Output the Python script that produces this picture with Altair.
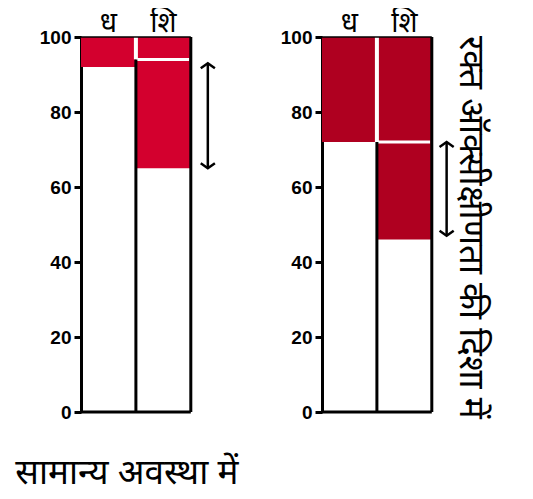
import altair as alt
import pandas as pd

# values
artery_level = [92, 72]      # lower edge of red fill, artery column (ध)
vein_level = [65, 46]        # lower edge of red fill, vein column (शि)
break_level = [94, 72]       # white break line in vein column
arrow_top = [93, 72]
arrow_bottom = [65, 47]
arrow_pos = [2.31, 2.27]
fill_colors = ["#D3002E", "#AF0020"]
col_labels = ["ध", "शि"]
col_centers = [0.5, 1.5]
y_ticks = [0, 20, 40, 60, 80, 100]
bottom_text = "सामान्य अवस्था में"
side_text = "रक्त ऑक्सीक्षीणता की दिशा में"

FONT = "Noto Sans"
XS = alt.Scale(domain=[0, 2.55], nice=False, zero=False)
YS = alt.Scale(domain=[0, 100], nice=False)


def yenc(field="y"):
    return alt.Y(f"{field}:Q", scale=YS, axis=alt.Axis(
        values=y_ticks, title=None, grid=False, domainColor="black",
        domainWidth=3, tickColor="black", tickWidth=3, tickSize=7,
        labelFontSize=19, labelFontWeight="bold", labelColor="black",
        labelFont="Liberation Sans", labelPadding=3))


def xenc(field="x"):
    return alt.X(f"{field}:Q", scale=XS, axis=None)


def panel(i):
    fills = pd.DataFrame({"x": [0, 1], "x2": [1, 2],
                          "y": [artery_level[i], vein_level[i]], "y2": [100, 100]})
    red = alt.Chart(fills).mark_rect(color=fill_colors[i]).encode(
        x=xenc(), x2="x2:Q", y=yenc(), y2="y2:Q")

    black_v = pd.DataFrame({"x": [1, 2], "y": [0, 0], "y2": [break_level[i], 100]})
    bl_v = alt.Chart(black_v).mark_rule(color="black", strokeWidth=3).encode(
        x=xenc(), y=yenc(), y2="y2:Q")
    black_h = pd.DataFrame({"x": [0, 0], "x2": [2, 2], "y": [0, 100], "w": [3, 1.5]})
    bl_h = alt.Chart(black_h).mark_rule(color="black").encode(
        x=xenc(), x2="x2:Q", y=yenc(),
        strokeWidth=alt.StrokeWidth("w:Q", scale=None, legend=None))

    white_v = pd.DataFrame({"x": [1], "y": [break_level[i]], "y2": [100]})
    wh_v = alt.Chart(white_v).mark_rule(color="white", strokeWidth=4).encode(
        x=xenc(), y=yenc(), y2="y2:Q")
    white_h = pd.DataFrame({"x": [1], "x2": [1.97], "y": [break_level[i]]})
    wh_h = alt.Chart(white_h).mark_rule(color="white", strokeWidth=3).encode(
        x=xenc(), x2="x2:Q", y=yenc())

    arr = pd.DataFrame({"x": [arrow_pos[i]], "y": [arrow_bottom[i]], "y2": [arrow_top[i]]})
    arr_line = alt.Chart(arr).mark_rule(color="black", strokeWidth=2.5).encode(
        x=xenc(), y=yenc(), y2="y2:Q")
    head_up = alt.Chart(pd.DataFrame({"x": [arrow_pos[i]], "y": [arrow_top[i]]})).mark_point(
        shape="M -1 0.7 L 0 0 L 1 0.7", filled=False, color="black",
        strokeWidth=2.5, size=200, opacity=1).encode(x=xenc(), y=yenc())
    head_dn = alt.Chart(pd.DataFrame({"x": [arrow_pos[i]], "y": [arrow_bottom[i]]})).mark_point(
        shape="M -1 -0.7 L 0 0 L 1 -0.7", filled=False, color="black",
        strokeWidth=2.5, size=200, opacity=1).encode(x=xenc(), y=yenc())

    labels = pd.DataFrame({"x": col_centers, "y": [100, 100], "t": col_labels})
    lab = alt.Chart(labels).mark_text(font=FONT, fontSize=28, dy=-13,
                                      color="black").encode(
        x=xenc(), y=yenc(), text="t:N")

    layers = alt.layer(red, wh_v, wh_h, bl_v, bl_h, arr_line, head_up, head_dn, lab)
    if i == 0:
        layers = layers.properties(title=alt.TitleParams(
            bottom_text, orient="bottom", anchor="start", font=FONT,
            fontSize=35, fontWeight="normal", color="black", offset=34, dx=-24))
    else:
        layers = layers.properties(title=alt.TitleParams(
            side_text, orient="right", anchor="start", font=FONT,
            fontSize=35, fontWeight="normal", color="black", offset=-9, angle=90,
            dx=26))
    return layers.properties(width=140, height=375)


chart = alt.hconcat(panel(0), panel(1), spacing=41).configure_view(
    stroke=None).properties(padding={"left": 7, "top": 2, "right": 5, "bottom": 10})

chart.save("out.html", embed_options={"renderer": "svg", "actions": False})
